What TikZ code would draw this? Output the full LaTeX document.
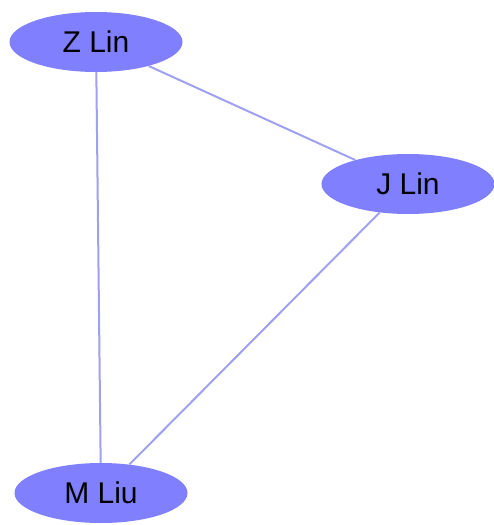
\documentclass[tikz,border=0pt]{standalone}
\usepackage{fontspec}
\setmainfont{Liberation Sans}
\usetikzlibrary{shapes.geometric}
\definecolor{nodefill}{HTML}{8080FF}
\definecolor{edgecol}{HTML}{A0A0F0}
\begin{document}
\begin{tikzpicture}[x=1pt,y=-1pt,
  person/.style={ellipse, fill=nodefill, draw=none, minimum width=173pt, minimum height=60pt, inner sep=0pt, font=\fontsize{30}{34}\selectfont, text=black},
  link/.style={draw=edgecol, line width=2pt}]
\useasboundingbox (0,0) rectangle (493,525);
\node[person] (z) at (96,42) {Z Lin};
\node[person] (j) at (408,184) {J Lin};
\node[person] (m) at (101,493) {M Liu};
\draw[link] (z) -- (j);
\draw[link] (z) -- (m);
\draw[link] (j) -- (m);
\end{tikzpicture}
\end{document}
